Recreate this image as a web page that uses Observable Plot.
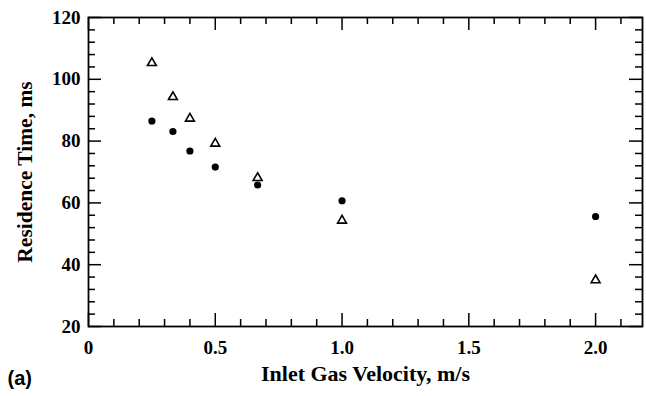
<!DOCTYPE html>
<html>
<head>
<meta charset="utf-8">
<script src="https://cdn.jsdelivr.net/npm/d3@7"></script>
<script src="https://cdn.jsdelivr.net/npm/@observablehq/plot@0.6"></script>
<style>
  html, body { margin: 0; padding: 0; background: #fff; }
  #chart { width: 646px; height: 396px; }
</style>
</head>
<body>
<div id="chart"></div>
<script>
// Data
const velocity = [0.25, 0.333, 0.4, 0.5, 0.667, 1.0, 2.0];
const seriesCircles = [86.5, 83.1, 76.8, 71.6, 65.8, 60.7, 55.6];
const seriesTriangles = [105.3, 94.3, 87.3, 79.2, 68.1, 54.3, 35.0];

const xMajorTicks = [0, 0.5, 1.0, 1.5, 2.0];
const xTickLabels = ["0", "0.5", "1.0", "1.5", "2.0"];
const xMinorTicks = [0.1, 0.2, 0.3, 0.4, 0.6, 0.7, 0.8, 0.9, 1.1, 1.2, 1.3, 1.4, 1.6, 1.7, 1.8, 1.9, 2.1];
const yMajorTicks = [20, 40, 60, 80, 100, 120];
const yTickLabels = ["20", "40", "60", "80", "100", "120"];
const yMinorTicks = [24, 28, 32, 36, 44, 48, 52, 56, 64, 68, 72, 76, 84, 88, 92, 96, 104, 108, 112, 116];

const xTitle = "Inlet Gas Velocity, m/s";
const yTitle = "Residence Time, ms";
const panelLabel = "(a)";

const W = 646, H = 396;
const mL = 88, mR = 4, mT = 17, mB = 70;
const pw = W - mL - mR, ph = H - mT - mB;
const majorLen = 13, minorLen = 7;
const serif = "Liberation Serif, Times New Roman, serif";
const sans = "Liberation Sans, Arial, sans-serif";

const circles = velocity.map((v, i) => ({x: v, y: seriesCircles[i]}));
const triangles = velocity.map((v, i) => ({x: v, y: seriesTriangles[i]}));

const tickStyle = {stroke: "#000", strokeWidth: 1.5};

const chart = Plot.plot({
  width: W, height: H,
  marginLeft: mL, marginRight: mR, marginTop: mT, marginBottom: mB,
  x: {domain: [0, 2.185], axis: null},
  y: {domain: [20, 120], axis: null},
  style: {background: "#fff", color: "#000"},
  marks: [
    Plot.frame({stroke: "#000", strokeWidth: 1.8}),
    // bottom ticks
    Plot.tickX(xMajorTicks, {x: d => d, insetTop: ph - majorLen, ...tickStyle}),
    Plot.tickX(xMinorTicks, {x: d => d, insetTop: ph - minorLen, ...tickStyle}),
    // top ticks
    Plot.tickX(xMajorTicks, {x: d => d, insetBottom: ph - majorLen, ...tickStyle}),
    Plot.tickX(xMinorTicks, {x: d => d, insetBottom: ph - minorLen, ...tickStyle}),
    // left ticks
    Plot.tickY(yMajorTicks, {y: d => d, insetRight: pw - majorLen, ...tickStyle}),
    Plot.tickY(yMinorTicks, {y: d => d, insetRight: pw - minorLen, ...tickStyle}),
    // right ticks
    Plot.tickY(yMajorTicks, {y: d => d, insetLeft: pw - majorLen, ...tickStyle}),
    Plot.tickY(yMinorTicks, {y: d => d, insetLeft: pw - minorLen, ...tickStyle}),
    // tick labels
    Plot.text(xMajorTicks, {x: d => d, text: (d, i) => xTickLabels[i], frameAnchor: "bottom", dy: 27,
      fontFamily: serif, fontWeight: "bold", fontSize: 19, fill: "#000"}),
    Plot.text(yMajorTicks, {y: d => d, text: (d, i) => yTickLabels[i], frameAnchor: "left", dx: -8, textAnchor: "end",
      fontFamily: serif, fontWeight: "bold", fontSize: 19, fill: "#000"}),
    // axis titles
    Plot.text([xTitle], {text: d => d, frameAnchor: "bottom", dy: 54, textAnchor: "middle",
      fontFamily: serif, fontWeight: "bold", fontSize: 22, fill: "#000"}),
    Plot.text([yTitle], {text: d => d, frameAnchor: "left", dx: -63, rotate: -90, textAnchor: "middle",
      fontFamily: serif, fontWeight: "bold", fontSize: 21.5, fill: "#000"}),
    Plot.text([panelLabel], {text: d => d, frameAnchor: "bottom-left", dx: -81, dy: 58, textAnchor: "start",
      fontFamily: sans, fontWeight: "bold", fontSize: 20, fill: "#000"}),
    // data
    Plot.dot(triangles, {x: "x", y: "y", symbol: "triangle", r: 3.3, stroke: "#000", strokeWidth: 1.6, fill: "#fff"}),
    Plot.dot(circles, {x: "x", y: "y", symbol: "circle", r: 3.6, fill: "#000", stroke: "none"})
  ]
});
document.getElementById("chart").appendChild(chart);
</script>
</body>
</html>
